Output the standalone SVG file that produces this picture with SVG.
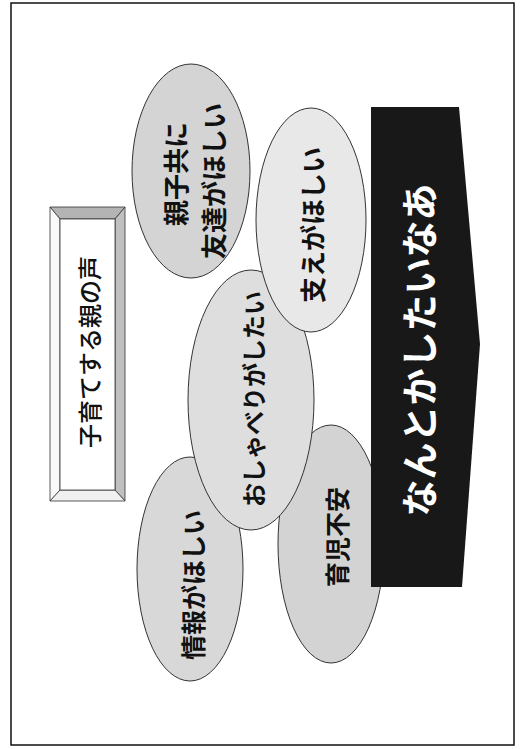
<svg xmlns="http://www.w3.org/2000/svg" width="524" height="749" viewBox="0 0 524 749">
  <style>
    .ell { stroke: #333; stroke-width: 1; }
    .lbl { font-family: "Noto Sans CJK JP", "Noto Sans", sans-serif; font-weight: 700; fill: #111; text-anchor: middle; dominant-baseline: central; }
    .bev { stroke: #333; stroke-width: 0.8; }
  </style>
  <rect x="0" y="0" width="524" height="749" fill="#fff"/>
  <rect id="frame" x="11" y="3" width="503" height="742" fill="none" stroke="#111" stroke-width="1.5"/>

  <g id="title">
    <polygon class="bev" points="50,207 125,207 115,219 60,219" fill="#b4b4b4"/>
    <polygon class="bev" points="125,207 125,501 115,490 115,219" fill="#c0c0c0"/>
    <polygon class="bev" points="50,207 60,219 60,490 50,501" fill="#fafafa"/>
    <polygon class="bev" points="50,501 60,490 115,490 125,501" fill="#f0f0f0"/>
    <rect class="bev" x="60" y="219" width="55" height="271" fill="#fff"/>
    <text class="lbl" transform="translate(88,352) rotate(-90)" style="font-size:24px;font-weight:500">子育てする親の声</text>
  </g>

  <g id="n-info">
    <ellipse class="ell" cx="190" cy="569" rx="53" ry="112" fill="#d8d8d8"/>
    <text class="lbl" transform="translate(192,585) rotate(-90)" style="font-size:25px">情報がほしい</text>
  </g>

  <g id="n-anxiety">
    <ellipse class="ell" cx="331" cy="544" rx="53" ry="119" fill="#d3d3d3"/>
    <text class="lbl" transform="translate(336,537) rotate(-90)" style="font-size:25px">育児不安</text>
  </g>

  <g id="n-friends">
    <ellipse class="ell" cx="191" cy="171" rx="59" ry="107" fill="#d4d4d4"/>
    <text class="lbl" transform="translate(174,174) rotate(-90)" style="font-size:26px">親子共に</text>
    <text class="lbl" transform="translate(212,181) rotate(-90)" style="font-size:26px">友達がほしい</text>
  </g>

  <g id="n-chat">
    <ellipse class="ell" cx="251" cy="400" rx="63" ry="130" fill="#dedede"/>
    <text class="lbl" transform="translate(252,399) rotate(-90)" style="font-size:24px">おしゃべりがしたい</text>
  </g>

  <g id="n-support">
    <ellipse class="ell" cx="311" cy="220" rx="55" ry="112" fill="#e8e8e8"/>
    <text class="lbl" transform="translate(311,225) rotate(-90)" style="font-size:26px">支えがほしい</text>
  </g>

  <g id="n-arrow">
    <polygon points="371,107 459,107 480,344 462,587 371,587" fill="#181818"/>
    <text class="lbl" transform="translate(418,350) rotate(-90)" style="font-size:37px;fill:#fff">なんとかしたいなあ</text>
  </g>

  <g id="connectors"></g>
</svg>
